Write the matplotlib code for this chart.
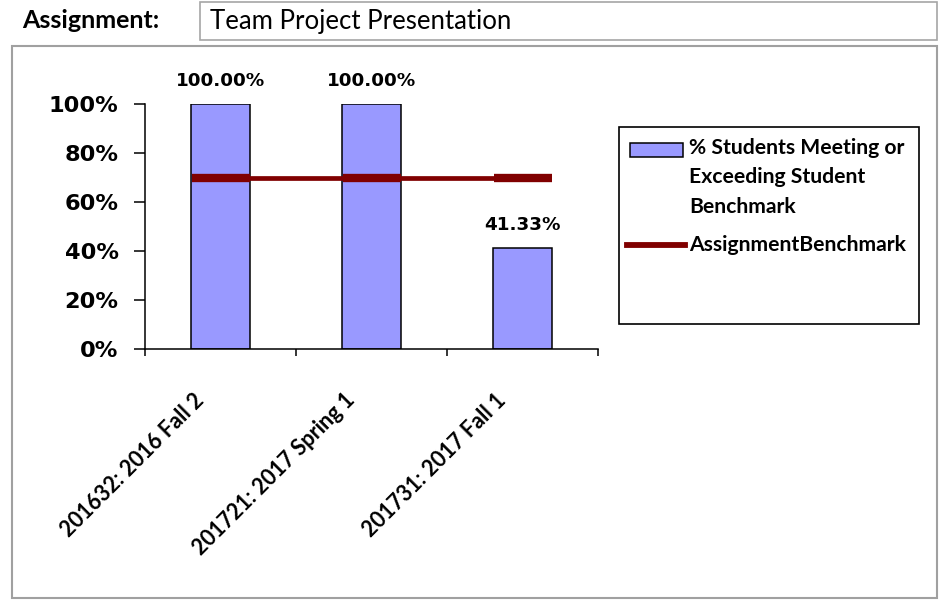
import numpy as np
import matplotlib
matplotlib.use("Agg")
import matplotlib.pyplot as plt
from matplotlib.patches import Rectangle
from matplotlib.lines import Line2D
from matplotlib.transforms import ScaledTranslation

# term results for the assignment
terms = ["201632: 2016 Fall 2", "201721: 2017 Spring 1", "201731: 2017 Fall 1"]
pct_meeting = [1.0, 1.0, 0.4133]
benchmark = [0.70, 0.70, 0.70]
yticks = [0, 0.2, 0.4, 0.6, 0.8, 1.0]
assignment = "Team Project Presentation"
legend_labels = ["% Students Meeting or\nExceeding Student\nBenchmark", "AssignmentBenchmark"]

BAR_COLOR = "#9999FF"
LINE_COLOR = "#800000"
W, H = 941, 600

fig = plt.figure(figsize=(W / 100, H / 100), dpi=100)

# page layer in pixel units: header, boxes, legend
page = fig.add_axes([0, 0, 1, 1])
page.set_xlim(0, W)
page.set_ylim(H, 0)
page.set_axis_off()

page.text(22, 21, "Assignment:", fontsize=18, fontweight="bold", family="Lato",
          va="center", ha="left")
page.add_patch(Rectangle((200, 2), 737, 38, fill=False, edgecolor="#a6a6a6", lw=1.2))
page.text(210, 21, assignment, fontsize=18.5, family="Lato", va="center", ha="left")
page.add_patch(Rectangle((12, 46), 925, 552, fill=False, edgecolor="#a0a0a0", lw=1.5))

# legend
page.add_patch(Rectangle((619, 127), 300, 197, fill=False, edgecolor="black", lw=1.2))
page.add_patch(Rectangle((630, 143), 53, 14, facecolor=BAR_COLOR, edgecolor="black", lw=1.1))
page.add_line(Line2D([627, 685], [245, 245], color=LINE_COLOR, lw=4.2))
page.text(689, 138, legend_labels[0], fontsize=15.2, fontweight="bold", family="Lato",
          va="top", ha="left", linespacing=1.58)
page.text(689, 245, legend_labels[1], fontsize=15.2, fontweight="bold", family="Lato",
          va="center", ha="left")

# chart area
ax = fig.add_axes([145 / W, 1 - 349 / H, 453 / W, 245 / H])
x = np.arange(len(terms))
ax.bar(x, pct_meeting, width=0.385, color=BAR_COLOR, edgecolor="black", linewidth=1.1, zorder=2)
ax.plot(x, benchmark, color=LINE_COLOR, lw=3.4, marker="_", ms=42, mew=6, zorder=3)

for xi, v in zip(x, pct_meeting):
    ax.annotate(f"{v * 100:.2f}%", (xi, v), xytext=(0, 10), textcoords="offset points",
                ha="center", va="bottom", fontsize=13.2, fontweight="bold")

ax.set_xlim(-0.5, len(terms) - 0.5)
ax.set_ylim(0, 1)
ax.set_yticks(yticks)
ax.set_yticklabels([f"{int(round(t * 100))}%" for t in yticks], fontsize=16.2, fontweight="bold")
ax.set_xticks(np.arange(len(terms) + 1) - 0.5)
ax.set_xticklabels([])
ax.tick_params(axis="y", direction="out", length=8, width=1.1, pad=11)
ax.tick_params(axis="x", direction="out", length=5, width=1.1)
for side in ("top", "right"):
    ax.spines[side].set_visible(False)
for side in ("left", "bottom"):
    ax.spines[side].set_linewidth(1.1)

# rotated category labels, anchored at their right end
shift = ScaledTranslation(-0.2, -0.48, fig.dpi_scale_trans)
for xi, name in zip(x, terms):
    ax.text(xi, 0, name, transform=ax.get_xaxis_transform() + shift, rotation=45,
            rotation_mode="anchor", ha="right", va="center", fontsize=15.5,
            fontweight="bold", family="Lato")

fig.savefig("out.png", dpi=100)
